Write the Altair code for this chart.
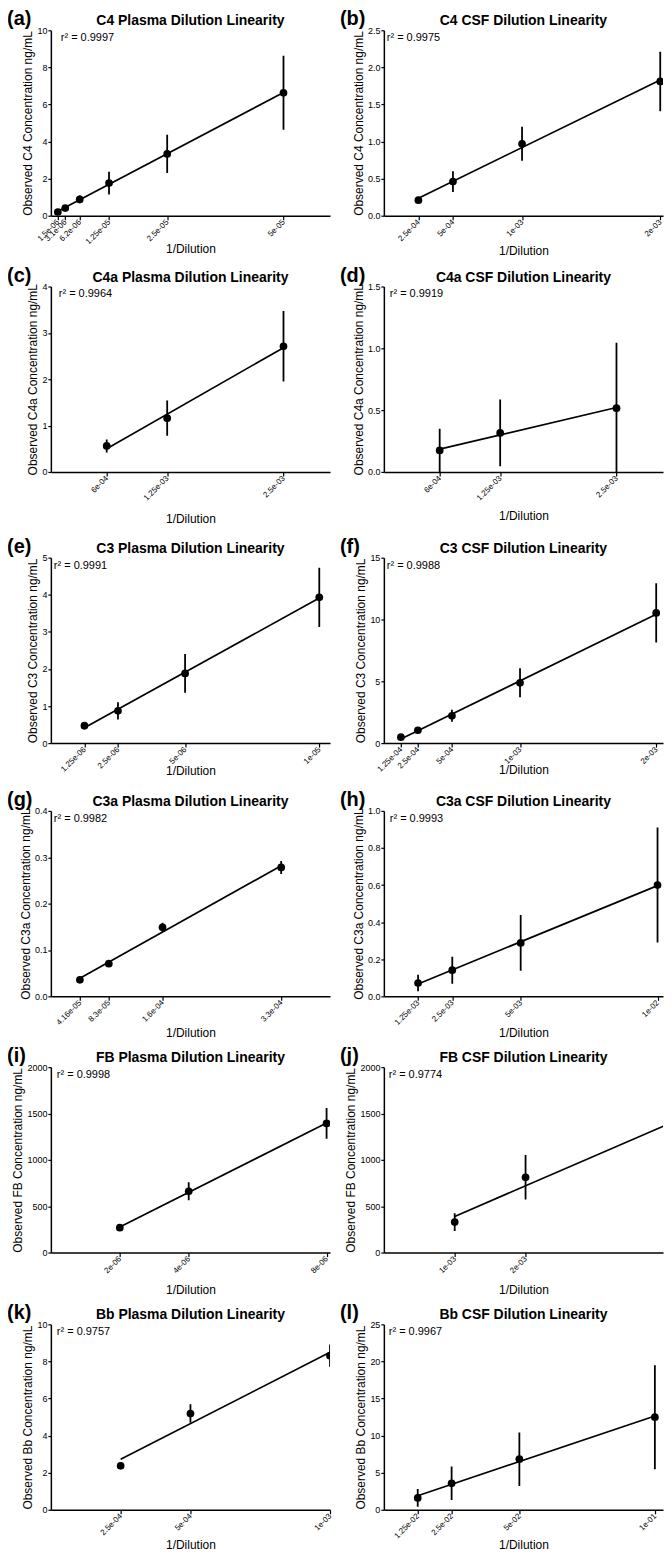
import altair as alt
import pandas as pd

FONT = "Liberation Sans"

# ---------------- data ----------------
panel_ids = ["(a)", "(b)", "(c)", "(d)", "(e)", "(f)", "(g)", "(h)", "(i)", "(j)", "(k)", "(l)"]
panel_titles = [
    "C4 Plasma Dilution Linearity", "C4 CSF Dilution Linearity",
    "C4a Plasma Dilution Linearity", "C4a CSF Dilution Linearity",
    "C3 Plasma Dilution Linearity", "C3 CSF Dilution Linearity",
    "C3a Plasma Dilution Linearity", "C3a CSF Dilution Linearity",
    "FB Plasma Dilution Linearity", "FB CSF Dilution Linearity",
    "Bb Plasma Dilution Linearity", "Bb CSF Dilution Linearity",
]
y_titles = [
    "Observed C4 Concentration ng/mL", "Observed C4 Concentration ng/mL",
    "Observed C4a Concentration ng/mL", "Observed C4a Concentration ng/mL",
    "Observed C3 Concentration ng/mL", "Observed C3 Concentration ng/mL",
    "Observed C3a Concentration ng/mL", "Observed C3a Concentration ng/mL",
    "Observed FB Concentration ng/mL", "Observed FB Concentration ng/mL",
    "Observed Bb Concentration ng/mL", "Observed Bb Concentration ng/mL",
]
r2_texts = ["r² = 0.9997", "r² = 0.9975", "r² = 0.9964", "r² = 0.9919",
            "r² = 0.9991", "r² = 0.9988", "r² = 0.9982", "r² = 0.9993",
            "r² = 0.9998", "r² = 0.9774", "r² = 0.9757", "r² = 0.9967"]

a_x = [1.5e-06, 3.1e-06, 6.2e-06, 1.25e-05, 2.5e-05, 5e-05]
a_y = [0.20, 0.41, 0.88, 1.76, 3.33, 6.63]
a_err = [0.05, 0.06, 0.21, 0.61, 1.03, 2.0]
a_lab = ["1.5e-06", "3.1e-06", "6.2e-06", "1.25e-05", "2.5e-05", "5e-05"]

b_x = [2.5e-04, 5e-04, 1e-03, 2e-03]
b_y = [0.21, 0.46, 0.97, 1.81]
b_err = [0.03, 0.14, 0.23, 0.40]
b_lab = ["2.5e-04", "5e-04", "1e-03", "2e-03"]

c_x = [6e-04, 1.25e-03, 2.5e-03]
c_y = [0.56, 1.16, 2.71]
c_err = [0.14, 0.38, 0.76]
c_lab = ["6e-04", "1.25e-03", "2.5e-03"]

d_x = [6e-04, 1.25e-03, 2.5e-03]
d_y = [0.174, 0.316, 0.516]
d_err = [0.175, 0.27, 0.53]
d_lab = ["6e-04", "1.25e-03", "2.5e-03"]

e_x = [1.25e-06, 2.5e-06, 5e-06, 1e-05]
e_y = [0.47, 0.87, 1.88, 3.93]
e_err = [0.10, 0.23, 0.52, 0.80]
e_lab = ["1.25e-06", "2.5e-06", "5e-06", "1e-05"]

f_x = [1.25e-04, 2.5e-04, 5e-04, 1e-03, 2e-03]
f_y = [0.48, 1.04, 2.21, 4.88, 10.53]
f_err = [0.10, 0.20, 0.48, 1.17, 2.40]
f_lab = ["1.25e-04", "2.5e-04", "5e-04", "1e-03", "2e-03"]

g_x = [4.16e-05, 8.3e-05, 1.6e-04, 3.3e-04]
g_y = [0.0356, 0.0705, 0.149, 0.278]
g_err = [0.003, 0.004, 0.010, 0.014]
g_lab = ["4.16e-05", "8.3e-05", "1.6e-04", "3.3e-04"]

h_x = [1.25e-03, 2.5e-03, 5e-03, 1e-02]
h_y = [0.072, 0.141, 0.288, 0.600]
h_err = [0.045, 0.073, 0.150, 0.310]
h_lab = ["1.25e-03", "2.5e-03", "5e-03", "1e-02"]

i_x = [2e-06, 4e-06, 8e-06]
i_y = [268, 661, 1393]
i_err = [20, 98, 166]
i_lab = ["2e-06", "4e-06", "8e-06"]

j_x = [1e-03, 2e-03, 4e-03]
j_y = [329, 811, 1350]
j_err = [96, 240, 200]
j_lab = ["1e-03", "2e-03", "4e-03"]

k_x = [2.5e-04, 5e-04, 1e-03]
k_y = [2.37, 5.19, 8.31]
k_err = [0.10, 0.50, 0.60]
k_lab = ["2.5e-04", "5e-04", "1e-03"]

l_x = [1.25e-02, 2.5e-02, 5e-02, 1e-01]
l_y = [1.6, 3.57, 6.82, 12.48]
l_err = [1.2, 2.25, 3.6, 7.0]
l_lab = ["1.25e-02", "2.5e-02", "5e-02", "1e-01"]

x_max = [6e-05, 2.02e-03, 3e-03, 3e-03, 1.04e-05, 2.05e-03,
         4e-04, 1.02e-02, 8.1e-06, 3.94e-03, 1e-03, 1.03e-01]
y_ticks = [
    [0, 2, 4, 6, 8, 10], [0.0, 0.5, 1.0, 1.5, 2.0, 2.5],
    [0, 1, 2, 3, 4], [0.0, 0.5, 1.0, 1.5],
    [0, 1, 2, 3, 4, 5], [0, 5, 10, 15],
    [0.0, 0.1, 0.2, 0.3, 0.4], [0.0, 0.2, 0.4, 0.6, 0.8, 1.0],
    [0, 500, 1000, 1500, 2000], [0, 500, 1000, 1500, 2000],
    [0, 2, 4, 6, 8, 10], [0, 5, 10, 15, 20, 25],
]
y_formats = ["d", ".1f", "d", ".1f", "d", "d", ".1f", ".1f", "d", "d", "d", "d"]

# layout helpers (positions, not data)
xtitle_y = [33, 35, 47, 44, 27, 26, 36, 36, 37, 37, 35, 35]
r2_dx = [10, 3, 8, 6, 3, 3, 3, 6, 6, 5, 6, 5]
row_bottom = [234, 249, 231, 234, 235, None]   # extent of each row below the plot top

series = [
    (a_x, a_y, a_err, a_lab), (b_x, b_y, b_err, b_lab),
    (c_x, c_y, c_err, c_lab), (d_x, d_y, d_err, d_lab),
    (e_x, e_y, e_err, e_lab), (f_x, f_y, f_err, f_lab),
    (g_x, g_y, g_err, g_lab), (h_x, h_y, h_err, h_lab),
    (i_x, i_y, i_err, i_lab), (j_x, j_y, j_err, j_lab),
    (k_x, k_y, k_err, k_lab), (l_x, l_y, l_err, l_lab),
]

W, H = 280, 186


def make_panel(idx):
    xs, ys, errs, labs = series[idx]
    df = pd.DataFrame({"x": xs, "y": ys, "err": errs})
    tick_vals = [v for v in xs if v <= x_max[idx] * 1.0000001]
    label_expr = ("[" + ",".join("'%s'" % s for s in labs) + "][indexof(["
                  + ",".join(repr(float(v)) for v in xs) + "], datum.value)]")
    xscale = alt.Scale(domain=[0, x_max[idx]], nice=False, zero=False)
    yscale = alt.Scale(domain=[0, y_ticks[idx][-1]], nice=False)
    xaxis = alt.Axis(
        values=tick_vals, labelExpr=label_expr, labelAngle=-45, labelAlign="right",
        labelBaseline="middle", labelFontSize=8, labelPadding=1, tickSize=4,
        labelOverlap=False, labelBound=False, labelFlush=False,
        grid=False, title="1/Dilution", titleFontSize=12, titleFontWeight="normal",
        titleY=xtitle_y[idx], titleBaseline="middle",
        domainColor="black", tickColor="black", labelColor="black",
        titleColor="black", domainWidth=1.5, tickWidth=1.2,
    )
    yaxis = alt.Axis(
        values=y_ticks[idx], format=y_formats[idx], labelFontSize=9,
        labelPadding=1, tickSize=3, grid=False, title=y_titles[idx],
        labelOverlap=False,
        titleFontSize=12, titleFontWeight="normal", titlePadding=2,
        domainColor="black", tickColor="black", labelColor="black",
        titleColor="black", domainWidth=1.5, tickWidth=1.2,
    )
    X = alt.X("x:Q", scale=xscale, axis=xaxis)
    base = alt.Chart(df)

    fit = base.transform_regression("x", "y").mark_line(
        color="black", strokeWidth=1.7, clip=True
    ).encode(x=X, y=alt.Y("y:Q", scale=yscale, axis=yaxis))

    bars = base.transform_calculate(
        lo="datum.y - datum.err", hi="datum.y + datum.err"
    ).mark_rule(color="black", strokeWidth=1.8, clip=True).encode(
        x=X, y=alt.Y("lo:Q", scale=yscale, axis=yaxis), y2="hi:Q"
    )

    pts = base.mark_circle(size=60, color="black", opacity=1, clip=True).encode(
        x=X, y=alt.Y("y:Q", scale=yscale, axis=yaxis)
    )

    r2 = alt.Chart(pd.DataFrame({"t": [r2_texts[idx]]})).mark_text(
        align="left", baseline="middle", fontSize=11, color="black"
    ).encode(x=alt.value(r2_dx[idx]), y=alt.value(8), text="t:N")

    tag = alt.Chart(pd.DataFrame({"t": [panel_ids[idx]]})).mark_text(
        align="left", baseline="alphabetic", fontSize=20, fontWeight="bold",
        color="black"
    ).encode(x=alt.value(-44), y=alt.value(-5), text="t:N")

    head = alt.Chart(pd.DataFrame({"t": [panel_titles[idx]]})).mark_text(
        align="center", baseline="alphabetic", fontSize=14, fontWeight="bold",
        color="black"
    ).encode(x=alt.value(W / 2), y=alt.value(-5), text="t:N")

    layers = [fit, bars, pts, r2, tag, head]
    rb = row_bottom[idx // 2]
    if rb is not None:
        spacer = alt.Chart(pd.DataFrame({"t": [0]})).mark_rule(
            color="white", opacity=0, strokeWidth=0.1
        ).encode(x=alt.value(0), x2=alt.value(4), y=alt.value(rb))
        layers.append(spacer)

    return alt.layer(*layers).properties(width=W, height=H)


panels = [make_panel(i) for i in range(12)]
rows = [alt.hconcat(panels[2 * r], panels[2 * r + 1], spacing=54, bounds="flush")
        for r in range(6)]

chart = alt.vconcat(*rows, spacing=0).properties(
    padding={"top": -2, "left": -2, "right": 0, "bottom": 0}
).configure_view(stroke="transparent").configure_axis(
    labelFont=FONT, titleFont=FONT
).configure_text(font=FONT)

chart.save("out.html", embed_options={"renderer": "svg", "actions": False})
